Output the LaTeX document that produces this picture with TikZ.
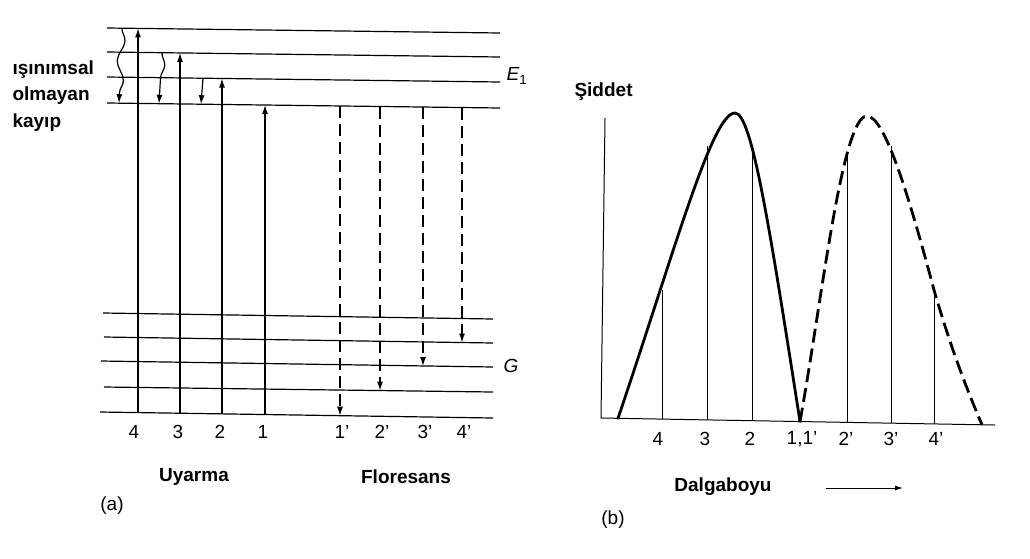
\documentclass[tikz,border=0pt]{standalone}
\usepackage{fontspec}
\setmainfont{Liberation Sans}
\usetikzlibrary{arrows.meta,decorations.pathmorphing}
\begin{document}
\begin{tikzpicture}[x=1pt,y=-1pt,
  level/.style={line width=1.2pt},
  uparrow/.style={line width=1.2pt,-{Latex[length=9pt,width=6pt]}},
  fluo/.style={line width=1.2pt,dash pattern=on 12pt off 6pt,-{Latex[length=9pt,width=6pt]}},
  wavy/.style={line width=1.2pt,-{Latex[length=9pt,width=6pt]},decorate,
    decoration={snake,amplitude=3.5pt,segment length=40pt,post length=9pt}},
  lbl/.style={font=\fontsize{19}{21}\selectfont},
  blbl/.style={font=\fontsize{19}{21}\selectfont\bfseries},
  curve/.style={line width=2.8pt,line cap=round,line join=round},
  thin/.style={line width=1pt},
]
\useasboundingbox (0,0) rectangle (1030,558);
% ---------- panel (a): levels
\coordinate (E1l) at (107,28);  \coordinate (E1r) at (500,33);
\coordinate (E2l) at (107,52);  \coordinate (E2r) at (500,57);
\coordinate (E3l) at (107,77);  \coordinate (E3r) at (500,82);
\coordinate (E4l) at (107,103); \coordinate (E4r) at (500,108);
\coordinate (G1l) at (103,313); \coordinate (G1r) at (493,319);
\coordinate (G2l) at (104,337); \coordinate (G2r) at (493,343);
\coordinate (G3l) at (101,361); \coordinate (G3r) at (493,367);
\coordinate (G4l) at (104,387); \coordinate (G4r) at (493,392);
\coordinate (G5l) at (100,412); \coordinate (G5r) at (493,418);
\foreach \n in {E1,E2,E3,E4,G1,G2,G3,G4,G5}{\draw[level] (\n l) -- (\n r);}
% excitation arrows
\coordinate (a4b) at (138,412.6); \coordinate (a4t) at (138,28.4);
\coordinate (a3b) at (180,413.2); \coordinate (a3t) at (180,52.9);
\coordinate (a2b) at (222,413.9); \coordinate (a2t) at (222,78.5);
\coordinate (a1b) at (265,414.5); \coordinate (a1t) at (265,105);
\draw[uparrow] (a4b) -- (a4t);
\draw[uparrow] (a3b) -- (a3t);
\draw[uparrow] (a2b) -- (a2t);
\draw[uparrow] (a1b) -- (a1t);
% non-radiative wavy arrows
\coordinate (w1t) at (122,28.2);  \coordinate (w1b) at (119,103.2);
\coordinate (w2t) at (162,52.7);  \coordinate (w2b) at (159,103.7);
\coordinate (w3t) at (203,78.2);  \coordinate (w3b) at (201,104.2);
\draw[wavy] (w1t) -- (w1b);
\draw[wavy] (w2t) -- (w2b);
\draw[wavy,decoration={snake,amplitude=2.5pt,segment length=30pt,post length=9pt}] (w3t) -- (w3b);
% fluorescence arrows
\coordinate (f1t) at (340,106);   \coordinate (f1b) at (340,415.7);
\coordinate (f2t) at (380,106.5); \coordinate (f2b) at (380,390.5);
\coordinate (f3t) at (423,107);   \coordinate (f3b) at (423,366);
\coordinate (f4t) at (462,107.5); \coordinate (f4b) at (462,342.5);
\draw[fluo] (f1t) -- (f1b);
\draw[fluo] (f2t) -- (f2b);
\draw[fluo] (f3t) -- (f3b);
\draw[fluo] (f4t) -- (f4b);
% labels panel (a)
\node[lbl] (n4) at (134,432) {4};
\node[lbl] (n3) at (178,432) {3};
\node[lbl] (n2) at (220,432) {2};
\node[lbl] (n1) at (263,432) {1};
\node[lbl] (n1p) at (342,432) {1'};
\node[lbl] (n2p) at (382,432) {2'};
\node[lbl] (n3p) at (425,432) {3'};
\node[lbl] (n4p) at (464,432) {4'};
\node[blbl] (uy) at (194,477) {Uyarma};
\node[blbl] (fl) at (406,477) {Floresans};
\node[lbl] (pa) at (112,506) {(a)};
\node[lbl,anchor=west] (E) at (503,76) {\textit{E}\textsubscript{1}};
\node[lbl,anchor=west] (G) at (500,366) {\textit{G}};
\node[blbl,anchor=west] (k1) at (9,70) {ışınımsal};
\node[blbl,anchor=west] (k2) at (9,96) {olmayan};
\node[blbl,anchor=west] (k3) at (9,123) {kayıp};
% ---------- panel (b)
\coordinate (ax) at (605,118); \coordinate (o) at (601,418); \coordinate (bx) at (995,425);
\draw[thin] (ax) -- (o) -- (bx);
% vertical lines
\coordinate (v4b) at (662,419.1); \coordinate (v4t) at (662,290);
\coordinate (v3b) at (707,419.9); \coordinate (v3t) at (707,146);
\coordinate (v2b) at (752,420.7); \coordinate (v2t) at (752,146);
\coordinate (v2pb) at (847,422.4); \coordinate (v2pt) at (847,156);
\coordinate (v3pb) at (891,423.1); \coordinate (v3pt) at (891,146);
\coordinate (v4pb) at (934,423.9); \coordinate (v4pt) at (934,290);
\foreach \v in {v4,v3,v2,v2p,v3p,v4p}{\draw[thin] (\v b) -- (\v t);}
% curves
\coordinate (s0) at (618,418.3); \coordinate (s1) at (735,113); \coordinate (s2) at (800,421.5);
\coordinate (d1) at (867,116); \coordinate (d15) at (934,290); \coordinate (d2) at (982,424.8);
\draw[curve] (s0) .. controls (675,250) and (712,113) .. (s1)
  .. controls (752,113) and (770,230) .. (s2);
\draw[curve,dash pattern=on 14pt off 6pt,line cap=butt] (s2) .. controls (822,300) and (842,116) .. (d1)
  .. controls (885,116) and (910,200) .. (d15)
  .. controls (950,345) and (965,385) .. (d2);
% labels panel (b)
\node[lbl] (m4) at (658,439) {4};
\node[lbl] (m3) at (705,439) {3};
\node[lbl] (m2) at (750,439) {2};
\node[lbl] (m1) at (802,439) {1,1'};
\node[lbl] (m2p) at (846,439) {2'};
\node[lbl] (m3p) at (891,439) {3'};
\node[lbl] (m4p) at (936,439) {4'};
\node[blbl] (dal) at (723,487) {Dalgaboyu};
\coordinate (da1) at (826,488); \coordinate (da2) at (903,488);
\draw[line width=1pt,-{Latex[length=8pt,width=5pt]}] (da1) -- (da2);
\node[lbl] (pb) at (613,520) {(b)};
\node[blbl,anchor=west] (sid) at (571,92) {Şiddet};
\end{tikzpicture}
\end{document}
